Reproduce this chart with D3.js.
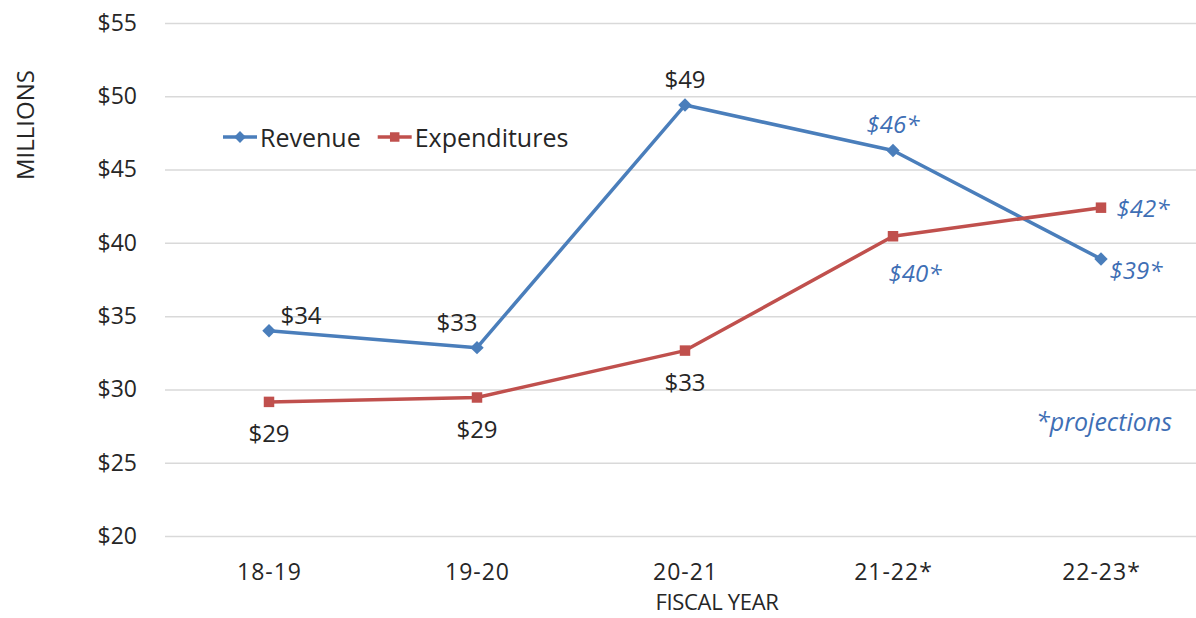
<!DOCTYPE html>
<html>
<head>
<meta charset="utf-8">
<script src="https://cdn.jsdelivr.net/npm/d3@7"></script>
<style>
  body { margin: 0; background: #fff; }
  svg text { font-family: "Open Sans", "Noto Sans", sans-serif; fill: #262626; }
</style>
</head>
<body>
<div class="chart"></div>
<script>
// data (millions of dollars)
const years = ["18-19", "19-20", "20-21", "21-22*", "22-23*"];
const projected = [false, false, false, true, true];
const revenue = [34.0, 32.85, 49.4, 46.3, 38.9];
const expenditures = [29.15, 29.45, 32.65, 40.45, 42.4];
const yTicks = [20, 25, 30, 35, 40, 45, 50, 55];

// where each value label sits relative to its point
const revLabelPos = [[32, -16], [-20, -26], [0, -27], [0, -27], [35, 11]];
const expLabelPos = [[0, 31], [0, 31], [0, 31], [22, 36], [42, 0]];

var width = 1196, height = 618;
var margin = { top: 23, left: 165, right: -9, bottom: 82 };

var svg = d3.select(".chart")
    .append("svg")
    .attr("width", width)
    .attr("height", height);

var xScale = d3.scalePoint()
    .domain(years)
    .range([margin.left, width - margin.right])
    .padding(0.5);

var yScale = d3.scaleLinear()
    .domain([20, 55])
    .range([height - margin.bottom, margin.top]);

// diamond = square turned 45deg
var diamond = {
    draw: function(ctx, size) {
        var r = Math.sqrt(size / 2);
        ctx.moveTo(0, -r); ctx.lineTo(r, 0); ctx.lineTo(0, r); ctx.lineTo(-r, 0); ctx.closePath();
    }
};

// gridlines + y labels
var yAxis = svg.append("g")
    .attr("transform", `translate(${margin.left},0)`)
    .call(d3.axisLeft(yScale)
        .tickValues(yTicks)
        .tickSize(-(width - margin.left - margin.right))
        .tickPadding(28)
        .tickFormat(d => "$" + d));
yAxis.select(".domain").remove();
yAxis.selectAll(".tick line").attr("stroke", "#d9d9d9").attr("stroke-width", 1.5);
yAxis.selectAll(".tick text").style("font-size", "23px").attr("fill", "#262626");

// x labels
var xAxis = svg.append("g")
    .attr("transform", `translate(0,${yScale(20)})`)
    .call(d3.axisBottom(xScale).tickSize(0).tickPadding(28));
xAxis.select(".domain").remove();
xAxis.selectAll(".tick text").style("font-size", "23px").style("letter-spacing", "1px").attr("fill", "#262626");

svg.append("text")
    .attr("x", 717).attr("y", 601)
    .attr("text-anchor", "middle")
    .attr("dominant-baseline", "central")
    .style("font-size", "22px")
    .style("letter-spacing", "-0.3px")
    .text("FISCAL YEAR");

svg.append("text")
    .attr("transform", "translate(34,125) rotate(-90)")
    .attr("text-anchor", "middle")
    .style("font-size", "24px")
    .text("MILLIONS");

var series = [
    { name: "Revenue", values: revenue, color: "#4a7ebb", shape: diamond, pos: revLabelPos },
    { name: "Expenditures", values: expenditures, color: "#c0504d", shape: d3.symbolSquare, pos: expLabelPos }
];

var line = d3.line()
    .x((d, i) => xScale(years[i]))
    .y(d => yScale(d));

series.forEach(function(s) {
    svg.append("path")
        .datum(s.values)
        .attr("fill", "none")
        .attr("stroke", s.color)
        .attr("stroke-width", 3.5)
        .attr("stroke-linejoin", "round")
        .attr("d", line);

    svg.selectAll(null)
        .data(s.values)
        .enter()
        .append("path")
        .attr("transform", (d, i) => `translate(${xScale(years[i])},${yScale(d)})`)
        .attr("d", d3.symbol().type(s.shape).size(s.shape === diamond ? 90 : 110))
        .attr("fill", s.color);

    svg.selectAll(null)
        .data(s.values)
        .enter()
        .append("text")
        .attr("x", (d, i) => xScale(years[i]) + s.pos[i][0])
        .attr("y", (d, i) => yScale(d) + s.pos[i][1])
        .attr("text-anchor", "middle")
        .attr("dominant-baseline", "central")
        .style("font-size", "24px")
        .style("font-style", (d, i) => projected[i] ? "italic" : "normal")
        .style("fill", (d, i) => projected[i] ? "#3f6fb5" : "#262626")
        .text((d, i) => "$" + Math.round(d) + (projected[i] ? "*" : ""));
});

// legend
var legend = svg.append("g").attr("transform", "translate(223,137)");
var lx = 0;
series.forEach(function(s) {
    var g = legend.append("g").attr("transform", `translate(${lx},0)`);
    g.append("line")
        .attr("x1", 0).attr("x2", 34)
        .attr("stroke", s.color).attr("stroke-width", 3.5);
    g.append("path")
        .attr("transform", "translate(17,0)")
        .attr("d", d3.symbol().type(s.shape).size(s.shape === diamond ? 70 : 90))
        .attr("fill", s.color);
    var t = g.append("text")
        .attr("x", 37)
        .attr("dominant-baseline", "central")
        .style("font-size", "25px")
        .text(s.name);
    lx += 37 + t.node().getComputedTextLength() + 17;
});

svg.append("text")
    .attr("x", 1172).attr("y", 421)
    .attr("text-anchor", "end")
    .attr("dominant-baseline", "central")
    .style("font-size", "25px")
    .style("font-style", "italic")
    .style("fill", "#3f6fb5")
    .text("*projections");
</script>
</body>
</html>
